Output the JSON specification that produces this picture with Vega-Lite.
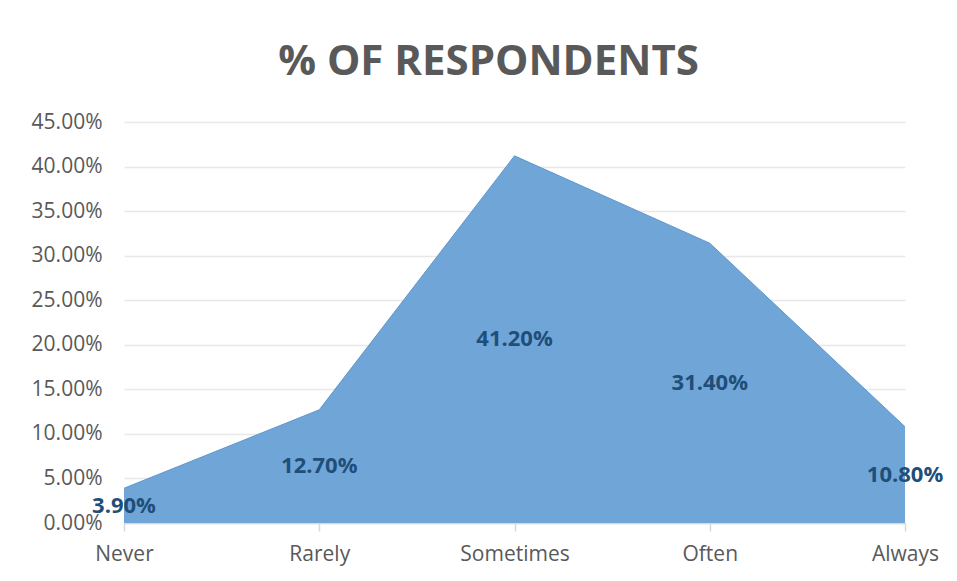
{
  "$schema": "https://vega.github.io/schema/vega-lite/v6.json",
  "autosize": {"type": "none"},
  "width": 781,
  "height": 401,
  "padding": {"left": 124, "top": 122, "right": 52, "bottom": 58},
  "background": "white",
  "title": {
    "text": "% OF RESPONDENTS",
    "font": "Open Sans",
    "fontSize": 42,
    "fontWeight": "bold",
    "color": "#595959",
    "anchor": "middle",
    "dx": -26,
    "offset": 27
  },
  "data": {
    "values": [
      {"answer": "Never", "share": 0.039},
      {"answer": "Rarely", "share": 0.127},
      {"answer": "Sometimes", "share": 0.412},
      {"answer": "Often", "share": 0.314},
      {"answer": "Always", "share": 0.108}
    ]
  },
  "config": {
    "view": {"stroke": null},
    "axis": {
      "labelFont": "Open Sans",
      "labelFontSize": 21,
      "labelColor": "#595959",
      "titleFont": "Open Sans"
    }
  },
  "layer": [
    {
      "mark": {"type": "area", "color": "#70A5D8", "opacity": 1, "line": {"color": "#5F97CE", "strokeWidth": 1}},
      "encoding": {
        "x": {
          "field": "answer",
          "type": "ordinal",
          "sort": null,
          "scale": {"type": "point", "padding": 0},
          "axis": {
            "title": null,
            "labelAngle": 0,
            "domainColor": "#d9d9d9",
            "domainWidth": 1.5,
            "tickColor": "#d9d9d9",
            "tickSize": 8,
            "tickWidth": 1.5,
            "labelPadding": 12,
            "grid": false
          }
        },
        "y": {
          "field": "share",
          "type": "quantitative",
          "scale": {"domain": [0, 0.45], "nice": false},
          "axis": {
            "title": null,
            "format": ".2%",
            "values": [0, 0.05, 0.1, 0.15, 0.2, 0.25, 0.3, 0.35, 0.4, 0.45],
            "domain": false,
            "ticks": false,
            "labelPadding": 22,
            "grid": true,
            "gridColor": "#e8e8e8",
            "gridWidth": 1.5
          }
        }
      }
    },
    {
      "mark": {
        "type": "text",
        "font": "Open Sans",
        "fontSize": 22,
        "fontWeight": "bold",
        "color": "#1F4E79",
        "baseline": "middle",
        "align": "center"
      },
      "encoding": {
        "x": {"field": "answer", "type": "ordinal", "sort": null, "scale": {"type": "point", "padding": 0}},
        "y": {
          "field": "share",
          "type": "quantitative",
          "scale": {"domain": [0, 0.9], "nice": false},
          "axis": null
        },
        "text": {"field": "share", "type": "quantitative", "format": ".2%"}
      }
    }
  ],
  "resolve": {"scale": {"y": "independent"}}
}
